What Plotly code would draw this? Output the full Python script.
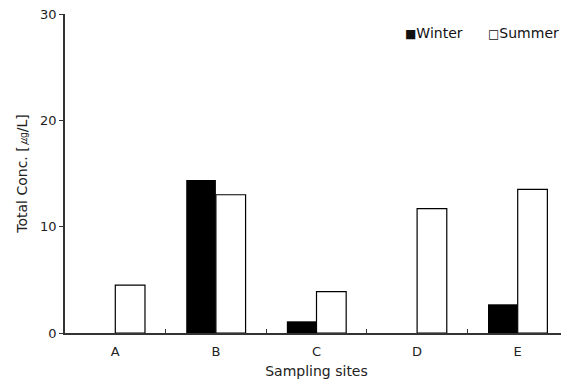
import plotly.graph_objects as go

sites = ["A", "B", "C", "D", "E"]
winter = [0, 14.4, 1.1, 0, 2.7]
summer = [4.5, 13.0, 3.9, 11.7, 13.5]
y_ticks = [0, 10, 20, 30]
series_names = ["Winter", "Summer"]

font_family = "DejaVu Sans, Verdana, sans-serif"

fig = go.Figure()
fig.add_trace(go.Bar(x=sites, y=winter, name=series_names[0], showlegend=False,
                     marker=dict(color="black", line=dict(color="black", width=0))))
fig.add_trace(go.Bar(x=sites, y=summer, name=series_names[1], showlegend=False,
                     marker=dict(color="white", line=dict(color="black", width=1.2))))

# legend drawn as text, like the original figure
fig.add_annotation(x=0.672, y=0.94, xref="paper", yref="paper", xanchor="left",
                   yanchor="middle", showarrow=False,
                   text="<span style='font-size:12px'>■</span>" + series_names[0],
                   font=dict(size=14, color="#111"))
fig.add_annotation(x=0.837, y=0.94, xref="paper", yref="paper", xanchor="left",
                   yanchor="middle", showarrow=False,
                   text="<span style='font-size:12px'>□</span>" + series_names[1],
                   font=dict(size=14, color="#111"))

# the page body adds an 8px offset, so the figure is sized/margined to compensate
fig.update_layout(
    width=561, height=373,
    margin=dict(l=57, r=1, t=6, b=48),
    paper_bgcolor="white", plot_bgcolor="white",
    barmode="group", bargap=0.41, bargroupgap=0,
    font=dict(family=font_family, size=13, color="#222"),
    showlegend=False,
)
fig.update_xaxes(
    showline=True, linecolor="#333", linewidth=1.5,
    ticks="inside", tickson="boundaries", ticklen=4, tickcolor="#333",
    showgrid=False, zeroline=False, automargin=False,
    tickfont=dict(size=13), ticklabelstandoff=6,
    title=dict(text="Sampling sites", standoff=8, font=dict(size=14)),
)
fig.update_yaxes(
    range=[0, 30], tickvals=y_ticks, showline=True, linecolor="#333", linewidth=1.5,
    ticks="outside", ticklen=4, tickcolor="#333",
    showgrid=False, zeroline=False, automargin=False,
    tickfont=dict(size=13), ticklabeloverflow="allow",
    title=dict(text="Total Conc. [㎍/L]", standoff=9, font=dict(size=14)),
)

fig.write_html("out.html")
